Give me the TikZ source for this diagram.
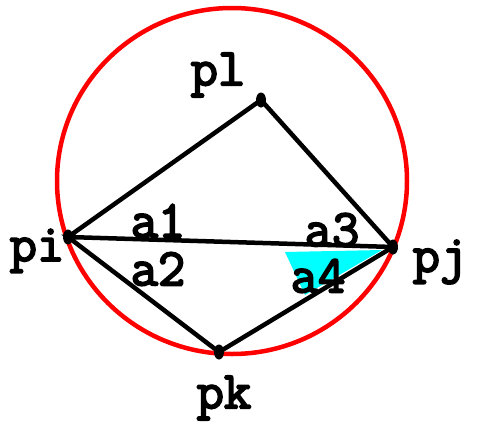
\documentclass[tikz,border=0pt]{standalone}
\usepackage{fontspec}
\newfontfamily\courb[FakeBold=3.5]{Latin Modern Mono}
\usetikzlibrary{shapes.geometric}
\definecolor{aqua}{RGB}{0,255,255}
\begin{document}
\begin{tikzpicture}[x=1pt,y=-1pt,
  lbl/.style={font=\courb\fontsize{53}{53}\selectfont, inner sep=0pt},
  dot/.style={ellipse, fill=black, minimum width=10pt, minimum height=15pt, inner sep=0pt},
  edge/.style={line width=4.5pt, black}]
\useasboundingbox (0,0) rectangle (482,424);
\draw[red, line width=4.5pt] (232,181) ellipse [x radius=175, y radius=173];
\fill[aqua] (285,252) -- (382,250) -- (305,295) -- cycle;
\node[dot] (pl) at (261,100) {};
\node[dot] (pi) at (68,237) {};
\node[dot] (pj) at (393,247) {};
\node[dot] (pk) at (219,352) {};
\draw[edge] (pi.center) -- (pl.center) -- (pj.center) -- (pi.center) -- (pk.center) -- (pj.center);
\node[lbl] (tl) at (218,75) {pl};
\node[lbl] (ti) at (37,251) {pi};
\node[lbl] (tj) at (440,262) {pj};
\node[lbl] (tk) at (224,398) {pk};
\node[lbl] (a1) at (158,221) {a1};
\node[lbl] (a2) at (158,269) {a2};
\node[lbl] (a3) at (332,230) {a3};
\node[lbl] (a4) at (318,276) {a4};
\end{tikzpicture}
\end{document}
